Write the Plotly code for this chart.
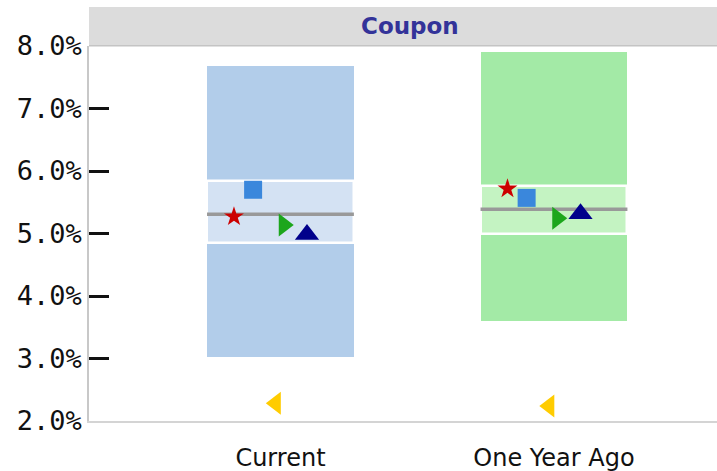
import plotly.graph_objects as go

categories = ["Current", "One Year Ago"]
outer_low = [3.03, 3.60]
outer_high = [7.68, 7.90]
inner_low = [4.85, 5.00]
inner_high = [5.84, 5.76]
median = [5.31, 5.39]

star_vals = [5.27, 5.715]
square_vals = [5.70, 5.57]
tri_right_vals = [5.136, 5.243]
tri_up_vals = [4.985, 5.315]
tri_left_vals = [2.283, 2.24]

tick_vals = [2, 3, 4, 5, 6, 7, 8]
tick_text = ["2.0%", "3.0%", "4.0%", "5.0%", "6.0%", "7.0%", "8.0%"]

outer_colors = ["#b2cdea", "#a3eaa6"]
inner_colors = ["#d4e2f3", "#c4f3c2"]

xpos = list(range(len(categories)))
BW = 0.537

fig = go.Figure()

fig.add_trace(go.Bar(
    x=xpos, y=[h - l for h, l in zip(outer_high, outer_low)], base=outer_low,
    width=BW, marker=dict(color=outer_colors, line=dict(width=0)),
    hoverinfo="skip", showlegend=False))
fig.add_trace(go.Bar(
    x=xpos, y=[h - l for h, l in zip(inner_high, inner_low)], base=inner_low,
    width=BW, marker=dict(color=inner_colors, line=dict(width=2.5, color="white")),
    hoverinfo="skip", showlegend=False))

for i in xpos:
    fig.add_trace(go.Scatter(
        x=[i - BW / 2, i + BW / 2], y=[median[i], median[i]], mode="lines",
        line=dict(color="#999999", width=3.5), showlegend=False, hoverinfo="skip"))

series = [
    (star_vals, -0.17, "star", "#cc0000", 15),
    (square_vals, -0.10, "square", "#3a87dc", 18),
    (tri_left_vals, -0.017, "triangle-left", "#ffcc00", 20),
    (tri_right_vals, 0.012, "triangle-right", "#1ca61c", 20),
    (tri_up_vals, 0.097, "triangle-up", "#00008b", 21),
]
for vals, off, sym, col, sz in series:
    fig.add_trace(go.Scatter(
        x=[i + off for i in xpos], y=vals, mode="markers",
        marker=dict(symbol=sym, color=col, size=sz, line=dict(width=0)),
        showlegend=False))

fig.update_layout(
    width=717, height=471,
    margin=dict(l=89, r=0, t=46, b=50),
    plot_bgcolor="white", paper_bgcolor="white",
    barmode="overlay", bargap=0,
    xaxis=dict(range=[-0.70, 1.596], tickvals=xpos, ticktext=categories,
               automargin=False,
               showgrid=False, zeroline=False, showline=True, linecolor="#d4d4d4",
               linewidth=1.5, ticks="", ticklabelstandoff=14,
               tickfont=dict(family="DejaVu Sans", size=24, color="#111111")),
    yaxis=dict(range=[2, 8], tickvals=tick_vals, ticktext=tick_text,
               automargin=False,
               showgrid=False, zeroline=False, showline=True, linecolor="#c8c8c8",
               linewidth=1.5, ticks="inside", ticklen=20, tickwidth=2.5,
               tickcolor="#111111", ticklabelstandoff=0,
               tickfont=dict(family="DejaVu Sans Mono", size=27, color="#111111")),
    shapes=[
        dict(type="rect", xref="paper", yref="paper", x0=0, x1=1, y0=1, y1=1.104,
             fillcolor="#dcdcdc", line=dict(width=0), layer="below"),
        dict(type="line", xref="paper", yref="paper", x0=0, x1=1, y0=1.001, y1=1.001,
             line=dict(color="#c4c4c4", width=1.5)),
    ],
    annotations=[
        dict(text="<b>Coupon</b>", xref="paper", yref="paper", x=0.511, y=1.052,
             showarrow=False, xanchor="center", yanchor="middle",
             font=dict(family="DejaVu Sans", size=23, color="#333399")),
    ],
)

fig.write_html("out.html", config={"displayModeBar": False},
               post_script="document.body.style.margin='0px';document.body.style.padding='0px';")
